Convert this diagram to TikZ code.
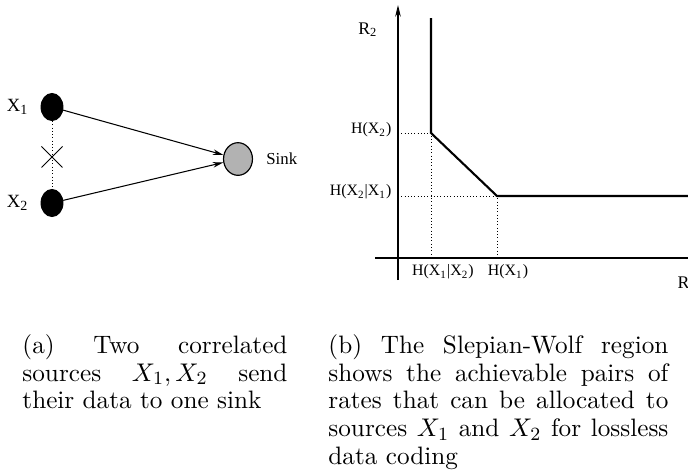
\documentclass[tikz,border=0pt]{standalone}
\usepackage{amsmath,amssymb}
\usepackage{fontspec}
\newfontfamily\figfont{Liberation Serif}
\usepackage{tikz}
\usetikzlibrary{arrows.meta,shapes.geometric,shapes.misc,positioning,calc}
\tikzset{
  wsnsource/.style={
    ellipse, draw=black, fill=black, line width=0.4pt,
    minimum width=9.4pt, minimum height=11.6pt, inner sep=0pt
  },
  wsnsink/.style={
    ellipse, draw=black, fill=gray!60, line width=0.5pt,
    minimum width=12.4pt, minimum height=14pt, inner sep=0pt
  },
  wsncut/.style={cross out, draw=black, line width=0.4pt, minimum size=8.6pt, inner sep=0pt},
  wsnedge/.style={-{Stealth[length=4.5pt,width=2.4pt]},line width=0.45pt},
  wsnguide/.style={densely dotted,line width=0.4pt},
  wsnlabel/.style={font=\figfont\fontsize{8}{9}\selectfont,inner sep=1pt},
  swaxis/.style={line width=0.45pt},
  swbound/.style={line width=0.9pt,line join=miter},
  swguide/.style={densely dotted,line width=0.4pt},
  swlabel/.style={font=\figfont\fontsize{6.8}{8}\selectfont,inner sep=0.5pt},
  capnote/.style={font=\fontsize{10.8}{11.9}\selectfont,align=justify,inner sep=0pt,anchor=north west}
}

\begin{document}
\begin{tikzpicture}[x=0.4286pt,y=-0.4286pt]
  \useasboundingbox (0,0) rectangle (688,475);

  % (a) sources and sink
  \node[wsnsource] (x1) at (52,107) {};
  \node[wsnsource] (x2) at (52,203) {};
  \node[wsnlabel,left=4pt of x1] (x1lab) {X\textsubscript{1}};
  \node[wsnlabel,left=4pt of x2] (x2lab) {X\textsubscript{2}};
  \draw[wsnguide] (x1) -- (x2);
  \node[wsncut] (cut) at ($(x1)!0.52!(x2)$) {};

  \node[wsnsink] (sink) at (238,159) {};
  \node[wsnlabel,font=\figfont\fontsize{7.2}{8}\selectfont,right=4.5pt of sink] (sinklab) {Sink};
  \draw[wsnedge] (x1) -- (sink);
  \draw[wsnedge] (x2) -- (sink);

  % (b) Slepian-Wolf region
  \coordinate (ybot) at (398,280);
  \coordinate (ytop) at (398,5);
  \coordinate (xleft) at (375,258);
  \coordinate (xright) at (688,258);
  \draw[swaxis,-{Stealth[length=5pt,width=2.4pt]}] (ybot) -- (ytop);
  \draw[swaxis] (xleft) -- (xright);

  \coordinate (top) at (431,18);
  \coordinate (c1) at (431,133);
  \coordinate (c2) at (497,196);
  \coordinate (far) at (688,196);
  \draw[swguide] (c1 -| ybot) -- (c1) -- (c1 |- xleft);
  \draw[swguide] (c2 -| ybot) -- (c2) -- (c2 |- xleft);
  \draw[swbound] (top) -- (c1) -- (c2) -- (far);

  \node[swlabel,anchor=east] (h2) at (393,130) {H(X\textsubscript{2})};
  \node[swlabel,anchor=east] (h21) at (393,192) {H(X\textsubscript{2}|X\textsubscript{1})};
  \node[swlabel] (h12) at (443,272) {H(X\textsubscript{1}|X\textsubscript{2})};
  \node[swlabel] (h1) at (508,272) {H(X\textsubscript{1})};
  \node[swlabel,font=\figfont\fontsize{7.6}{9}\selectfont] (r2) at (368,30) {R\textsubscript{2}};
  \node[swlabel,font=\figfont\fontsize{7.6}{9}\selectfont,anchor=west] (r1) at (676,283) {R};

  % captions
  \node[capnote,text width=113.6pt] (capa) at (22,334)
    {(a) Two correlated\linebreak sources $X_1,X_2$ send\linebreak their data to one sink};
  \node[capnote,text width=145.7pt] (capb) at (328,334)
    {(b) The Slepian-Wolf region\linebreak shows the achievable pairs of\linebreak rates that can be allocated to\linebreak sources $X_1$ and $X_2$ for lossless\linebreak data coding};
\end{tikzpicture}
\end{document}
